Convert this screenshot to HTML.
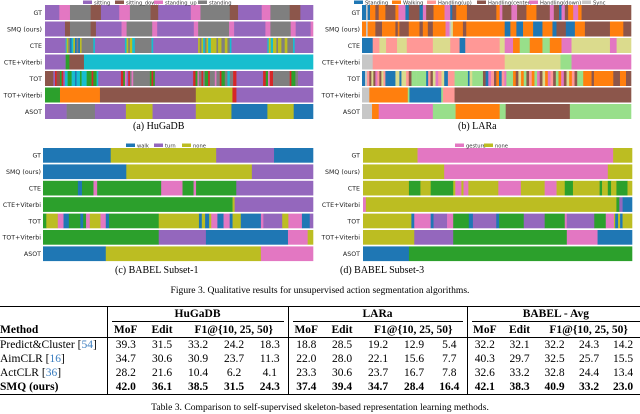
<!DOCTYPE html>
<html><head><meta charset="utf-8">
<style>
body{margin:0;background:#fff;}
#root{position:relative;width:640px;height:414px;overflow:hidden;background:#fff;font-family:"Liberation Serif",serif;}
svg text{font-family:"DejaVu Sans",sans-serif;}
.cap{position:absolute;font-size:10px;white-space:nowrap;color:#000;}
table{position:absolute;left:0;top:306px;width:640px;border-collapse:collapse;table-layout:fixed;font-size:11.5px;font-family:"Liberation Serif",serif;}
td{padding:0;height:14px;text-align:center;line-height:12px;white-space:nowrap;overflow:visible;}
.ref{color:#3b7ec0;}
</style></head><body>
<div id="root">
<svg id="fig" width="640" height="300" style="position:absolute;left:0;top:0"></svg>
<div class="cap" style="left:133px;top:121px;">(a) HuGaDB</div>
<div class="cap" style="left:458px;top:121px;">(b) LARa</div>
<div class="cap" style="left:115px;top:265px;">(c) BABEL Subset-1</div>
<div class="cap" style="left:340px;top:265px;">(d) BABEL Subset-3</div>
<div class="cap" style="left:0;width:640px;text-align:center;top:285px;font-size:9.6px;">Figure 3. Qualitative results for unsupervised action segmentation algorithms.</div>

<table>
<colgroup><col style="width:107px"><col style="width:37px"><col style="width:36px"><col style="width:36px"><col style="width:36px"><col style="width:36px"><col style="width:36px"><col style="width:36px"><col style="width:36px"><col style="width:36px"><col style="width:35px"><col style="width:35px"><col style="width:35px"><col style="width:35px"><col style="width:34px"><col style="width:34px"></colgroup>
<tr style="border-top:1px solid #000;font-weight:bold;">
<td style="height:16px;border-right:1px solid #000"></td>
<td colspan="5" style="height:16px;border-right:1px solid #000"><span style="display:block;border-bottom:0.8px solid #000;margin:0 4px;padding-bottom:1px">HuGaDB</span></td>
<td colspan="5" style="height:16px;border-right:1px solid #000"><span style="display:block;border-bottom:0.8px solid #000;margin:0 4px;padding-bottom:1px">LARa</span></td>
<td colspan="5" style="height:16px;"><span style="display:block;border-bottom:0.8px solid #000;margin:0 0 0 4px;padding-bottom:1px">BABEL - Avg</span></td>
</tr>
<tr style="font-weight:bold;border-bottom:1px solid #000;">
<td style="height:13px;text-align:left;border-right:1px solid #000">Method</td>
<td>MoF</td><td>Edit</td><td colspan="3" style="border-right:1px solid #000">F1@{10, 25, 50}</td>
<td>MoF</td><td>Edit</td><td colspan="3" style="border-right:1px solid #000">F1@{10, 25, 50}</td>
<td>MoF</td><td>Edit</td><td colspan="3">F1@{10, 25, 50}</td>
</tr>
<tr><td style="text-align:left;border-right:1px solid #000">Predict&amp;Cluster [<span class="ref">54</span>]</td><td>39.3</td><td>31.5</td><td>33.2</td><td>24.2</td><td style="border-right:1px solid #000">18.3</td><td>18.8</td><td>28.5</td><td>19.2</td><td>12.9</td><td style="border-right:1px solid #000">5.4</td><td>32.2</td><td>32.1</td><td>32.2</td><td>24.3</td><td>14.2</td></tr>
<tr><td style="text-align:left;border-right:1px solid #000">AimCLR [<span class="ref">16</span>]</td><td>34.7</td><td>30.6</td><td>30.9</td><td>23.7</td><td style="border-right:1px solid #000">11.3</td><td>22.0</td><td>28.0</td><td>22.1</td><td>15.6</td><td style="border-right:1px solid #000">7.7</td><td>40.3</td><td>29.7</td><td>32.5</td><td>25.7</td><td>15.5</td></tr>
<tr><td style="text-align:left;border-right:1px solid #000">ActCLR [<span class="ref">36</span>]</td><td>28.2</td><td>21.6</td><td>10.4</td><td>6.2</td><td style="border-right:1px solid #000">4.1</td><td>23.3</td><td>30.6</td><td>23.7</td><td>16.7</td><td style="border-right:1px solid #000">7.8</td><td>32.6</td><td>33.2</td><td>32.8</td><td>24.4</td><td>13.4</td></tr>
<tr style="font-weight:bold;border-bottom:1px solid #000;"><td style="text-align:left;border-right:1px solid #000">SMQ (ours)</td><td>42.0</td><td>36.1</td><td>38.5</td><td>31.5</td><td style="border-right:1px solid #000">24.3</td><td>37.4</td><td>39.4</td><td>34.7</td><td>28.4</td><td style="border-right:1px solid #000">16.4</td><td>42.1</td><td>38.3</td><td>40.9</td><td>33.2</td><td>23.0</td></tr>
</table>
<div class="cap" style="left:0;width:640px;text-align:center;top:402px;font-size:9.6px;">Table 3. Comparison to self-supervised skeleton-based representation learning methods.</div>
</div>
<script>
const colors={pu:'#9467bd',br:'#8c564b',pk:'#e377c2',gy:'#7f7f7f',bl:'#1f77b4',or:'#ff7f0e',gr:'#2ca02c',rd:'#d62728',ol:'#bcbd22',cy:'#17becf',lr:'#ff9896',lg:'#98df8a',lo:'#dbdb8d',lgy:'#c7c7c7'};
const methods=['GT','SMQ (ours)','CTE','CTE+Viterbi','TOT','TOT+Viterbi','ASOT'];

const hugadbLength=805;
const hugadbGT=[[43,'pu'],[75,'pk'],[137,'gy'],[168,'br'],[223,'pu'],[255,'pk'],[317,'gy'],[340,'br'],[438,'pu'],[467,'pk'],[555,'gy'],[580,'br'],[651,'pu'],[677,'pk'],[735,'gy'],[767,'br'],[805,'pu']];
const hugadbSMQ=[[60,'pu'],[75,'br'],[137,'gy'],[153,'br'],[230,'pu'],[245,'pk'],[322,'gy'],[337,'pk'],[447,'pu'],[460,'pk'],[553,'gy'],[568,'pk'],[662,'pu'],[677,'pk'],[738,'gy'],[753,'pk'],[798,'pu'],[805,'pk']];
const hugadbCTE=[[62,'pu'],[65,'cy'],[70,'ol'],[75,'gy'],[80,'bl'],[85,'cy'],[90,'ol'],[95,'bl'],[100,'gy'],[105,'bl'],[110,'ol'],[145,'gy'],[150,'cy'],[240,'pu'],[245,'cy'],[250,'ol'],[255,'gy'],[262,'ol'],[270,'cy'],[320,'gy'],[325,'cy'],[460,'pu'],[465,'ol'],[470,'gy'],[475,'ol'],[480,'cy'],[485,'gy'],[490,'ol'],[498,'cy'],[515,'ol'],[520,'gy'],[530,'ol'],[540,'gy'],[548,'ol'],[555,'gy'],[560,'cy'],[668,'pu'],[672,'cy'],[678,'ol'],[685,'cy'],[695,'ol'],[700,'gy'],[710,'ol'],[720,'gy'],[728,'ol'],[745,'gy'],[750,'cy'],[805,'pu']];
const hugadbCTEV=[[62,'pu'],[73,'gr'],[117,'br'],[805,'cy']];
const hugadbTOT=[[25,'br'],[30,'pu'],[35,'rd'],[45,'br'],[50,'gr'],[55,'rd'],[60,'pu'],[68,'cy'],[80,'gr'],[90,'cy'],[95,'bl'],[105,'cy'],[110,'gr'],[125,'cy'],[140,'gr'],[145,'rd'],[155,'gr'],[160,'cy'],[228,'pu'],[235,'rd'],[240,'gr'],[245,'pk'],[250,'pu'],[255,'rd'],[260,'gy'],[265,'pk'],[315,'gy'],[320,'gr'],[325,'rd'],[330,'gr'],[445,'pu'],[452,'rd'],[458,'gr'],[462,'pk'],[470,'gy'],[475,'rd'],[480,'gy'],[490,'gr'],[495,'rd'],[510,'gy'],[515,'pk'],[525,'gy'],[530,'rd'],[540,'gr'],[548,'gy'],[555,'cy'],[565,'gy'],[575,'rd'],[655,'pu'],[663,'rd'],[670,'gr'],[675,'pk'],[685,'rd'],[735,'gy'],[740,'rd'],[752,'gr'],[760,'gy'],[805,'pu']];
const hugadbTOTV=[[45,'gr'],[165,'or'],[453,'br'],[563,'ol'],[575,'rd'],[805,'pu']];
const hugadbASOT=[[65,'pu'],[150,'gy'],[243,'pu'],[323,'ol'],[453,'pu'],[560,'ol'],[668,'bl'],[747,'ol'],[805,'bl']];

const laraLength=805;
const laraGT=[[12,'bl'],[17,'lgy'],[24,'bl'],[40,'or'],[50,'br'],[70,'or'],[100,'br'],[109,'or'],[130,'pk'],[140,'bl'],[172,'br'],[182,'bl'],[192,'pk'],[214,'br'],[247,'or'],[264,'pk'],[270,'bl'],[282,'br'],[314,'or'],[402,'br'],[412,'or'],[420,'pk'],[447,'br'],[464,'pk'],[492,'br'],[522,'or'],[562,'br'],[574,'pk'],[590,'br'],[597,'bl'],[607,'pk'],[617,'br'],[632,'or'],[647,'pk'],[657,'or'],[805,'br']];
const laraSMQ=[[12,'or'],[17,'lgy'],[40,'or'],[60,'br'],[100,'or'],[107,'br'],[112,'or'],[140,'br'],[172,'or'],[182,'br'],[197,'or'],[212,'br'],[250,'or'],[262,'pk'],[267,'lgy'],[272,'lo'],[302,'or'],[312,'br'],[427,'or'],[444,'bl'],[462,'or'],[482,'bl'],[512,'or'],[540,'bl'],[570,'or'],[582,'bl'],[610,'br'],[637,'bl'],[667,'or'],[742,'br'],[782,'or'],[805,'br']];
const laraCTE=[[32,'bl'],[52,'lr'],[72,'lo'],[105,'lr'],[134,'lo'],[212,'lr'],[264,'lo'],[292,'lr'],[309,'bl'],[412,'lr'],[427,'lo'],[452,'pk'],[472,'or'],[502,'lg'],[540,'or'],[562,'lg'],[597,'or'],[627,'pk'],[742,'lo'],[762,'pk'],[805,'lo']];
const laraCTEV=[[32,'lgy'],[427,'lr'],[594,'lo'],[627,'lg'],[805,'pk']];
const laraTOT=[[9,'bl'],[15,'lgy'],[22,'lr'],[28,'br'],[34,'lo'],[40,'br'],[46,'pk'],[52,'lr'],[58,'br'],[64,'lo'],[70,'lr'],[100,'bl'],[112,'lo'],[118,'bl'],[132,'lo'],[140,'lr'],[148,'br'],[162,'lg'],[192,'lg'],[198,'bl'],[205,'lr'],[212,'br'],[220,'lo'],[228,'pk'],[238,'lr'],[246,'lo'],[257,'bl'],[277,'lr'],[317,'lg'],[322,'bl'],[330,'lo'],[362,'lg'],[370,'br'],[378,'bl'],[386,'pk'],[395,'lr'],[402,'br'],[410,'or'],[418,'bl'],[426,'lr'],[432,'pk'],[452,'lg'],[460,'or'],[468,'br'],[476,'lo'],[484,'or'],[492,'lg'],[500,'br'],[508,'lr'],[516,'or'],[524,'lg'],[532,'pk'],[540,'br'],[548,'lo'],[556,'or'],[564,'pk'],[572,'lr'],[580,'br'],[588,'lg'],[596,'or'],[604,'pk'],[612,'br'],[620,'lo'],[628,'or'],[636,'lr'],[644,'br'],[662,'lg'],[687,'or'],[694,'br'],[752,'or'],[772,'br'],[790,'or'],[805,'br']];
const laraTOTV=[[22,'lgy'],[137,'or'],[142,'lg'],[237,'bl'],[242,'lg'],[277,'lr'],[805,'br']];
const laraASOT=[[30,'lgy'],[50,'or'],[212,'pk'],[280,'lg'],[412,'or'],[430,'lg'],[622,'br'],[805,'lg']];

const babel1Length=658;
const babel1GT=[[165,'bl'],[422,'ol'],[563,'pu'],[658,'bl']];
const babel1SMQ=[[203,'bl'],[509,'ol'],[658,'pu']];
const babel1CTE=[[85,'gr'],[95,'bl'],[123,'gr'],[132,'pk'],[288,'gr'],[340,'pk'],[367,'gr'],[373,'pk'],[471,'gr'],[658,'pu']];
const babel1CTEV=[[462,'gr'],[467,'ol'],[658,'pu']];
const babel1TOT=[[8,'gr'],[36,'ol'],[50,'pk'],[63,'bl'],[91,'gr'],[98,'bl'],[105,'gr'],[114,'pk'],[140,'ol'],[153,'pk'],[161,'bl'],[282,'gr'],[380,'ol'],[387,'bl'],[395,'ol'],[405,'bl'],[410,'ol'],[425,'pk'],[440,'bl'],[455,'pk'],[462,'bl'],[482,'ol'],[531,'bl'],[537,'pk'],[583,'pu'],[598,'ol'],[631,'pk'],[650,'bl'],[658,'pu']];
const babel1TOTV=[[282,'gr'],[397,'pu'],[597,'bl'],[645,'pk'],[658,'ol']];
const babel1ASOT=[[153,'bl'],[531,'ol'],[658,'pk']];

const babel3Length=656;
const babel3GT=[[133,'ol'],[610,'pk'],[656,'ol']];
const babel3SMQ=[[198,'ol'],[597,'pk'],[656,'ol']];
const babel3CTE=[[112,'ol'],[140,'gr'],[165,'ol'],[220,'gr'],[225,'ol'],[240,'pk'],[245,'ol'],[257,'pk'],[330,'ol'],[385,'pk'],[443,'ol'],[472,'pk'],[492,'ol'],[512,'gr'],[577,'ol'],[583,'gr'],[597,'ol'],[605,'gr'],[618,'ol'],[645,'gr'],[656,'ol']];
const babel3CTEV=[[7,'pk'],[618,'ol'],[625,'gr'],[633,'pu'],[656,'bl']];
const babel3TOT=[[118,'ol'],[125,'bl'],[165,'pk'],[172,'bl'],[205,'pu'],[220,'pk'],[258,'gr'],[268,'bl'],[325,'pu'],[332,'bl'],[392,'gr'],[443,'pu'],[492,'gr'],[497,'pk'],[564,'pu'],[592,'gr'],[612,'pk'],[615,'ol'],[622,'bl'],[627,'ol'],[633,'bl'],[656,'ol']];
const babel3TOTV=[[125,'ol'],[220,'pu'],[497,'gr'],[572,'pk'],[656,'bl']];
const babel3ASOT=[[112,'bl'],[656,'gr']];

const hugadbLegendLabels=['sitting','sitting_down','standing_up','standing'];
const hugadbLegendColors=['pu','br','pk','gy'];
const laraLegendLabels=['Standing','Walking','Handling(up)','Handling(center)','Handling(down)','Sync'];
const laraLegendColors=['bl','or','lr','br','pk','lgy'];
const babel1LegendLabels=['walk','turn','none'];
const babel1LegendColors=['bl','pu','ol'];
const babel3LegendLabels=['gesture','none'];
const babel3LegendColors=['pk','ol'];

const NS='http://www.w3.org/2000/svg';
const svg=document.getElementById('fig');
function mk(tag,attrs,parent){const e=document.createElementNS(NS,tag);for(const k in attrs)e.setAttribute(k,attrs[k]);(parent||svg).appendChild(e);return e;}

const panels=[
 {key:'hugadb',rows:[hugadbGT,hugadbSMQ,hugadbCTE,hugadbCTEV,hugadbTOT,hugadbTOTV,hugadbASOT],len:hugadbLength,x0:45,x1:313,y0:5,pitch:16.5,h:15,labX:42,legY:0.5,legX:[83,115,154,198],legL:hugadbLegendLabels,legC:hugadbLegendColors},
 {key:'lara',rows:[laraGT,laraSMQ,laraCTE,laraCTEV,laraTOT,laraTOTV,laraASOT],len:laraLength,x0:362,x1:631,y0:5,pitch:16.5,h:15,labX:360,legY:0.5,legX:[354,392,427,477,529,582],legL:laraLegendLabels,legC:laraLegendColors},
 {key:'babel1',rows:[babel1GT,babel1SMQ,babel1CTE,babel1CTEV,babel1TOT,babel1TOTV,babel1ASOT],len:babel1Length,x0:43,x1:313,y0:148,pitch:16.4,h:14.7,labX:41,legY:143.5,legX:[126,154,182],legL:babel1LegendLabels,legC:babel1LegendColors},
 {key:'babel3',rows:[babel3GT,babel3SMQ,babel3CTE,babel3CTEV,babel3TOT,babel3TOTV,babel3ASOT],len:babel3Length,x0:363,x1:632,y0:148,pitch:16.4,h:14.7,labX:360,legY:143.5,legX:[455,484],legL:babel3LegendLabels,legC:babel3LegendColors}
];

panels.forEach(p=>{
  const g=mk('g',{});
  
  
  const xs=v=>p.x0+(v/p.len)*(p.x1-p.x0);
  p.rows.forEach((segs,ri)=>{
    const y=p.y0+ri*p.pitch;
    const lab=mk('text',{x:p.labX,y:y+p.h/2+2.3,'font-size':6.3,'text-anchor':'end',fill:'#222'},g);
    lab.textContent=methods[ri];
    
    
    let prev=0;
    segs.forEach(s=>{
      const r=mk('rect',{x:xs(prev),y:y,width:Math.max(0,xs(s[0])-xs(prev))+0.3,height:p.h,fill:colors[s[1]]},g);
      
      
      prev=s[0];
    });
  });
  p.legL.forEach((l,i)=>{
    const sw=mk('rect',{x:p.legX[i],y:p.legY,width:9,height:3.5,fill:colors[p.legC[i]]},g);
    
    
    const t=mk('text',{x:p.legX[i]+11,y:p.legY+3.8,'font-size':5.2,fill:'#333'},g);
    t.textContent=l;
    
    
  });
});
</script>
</body></html>
